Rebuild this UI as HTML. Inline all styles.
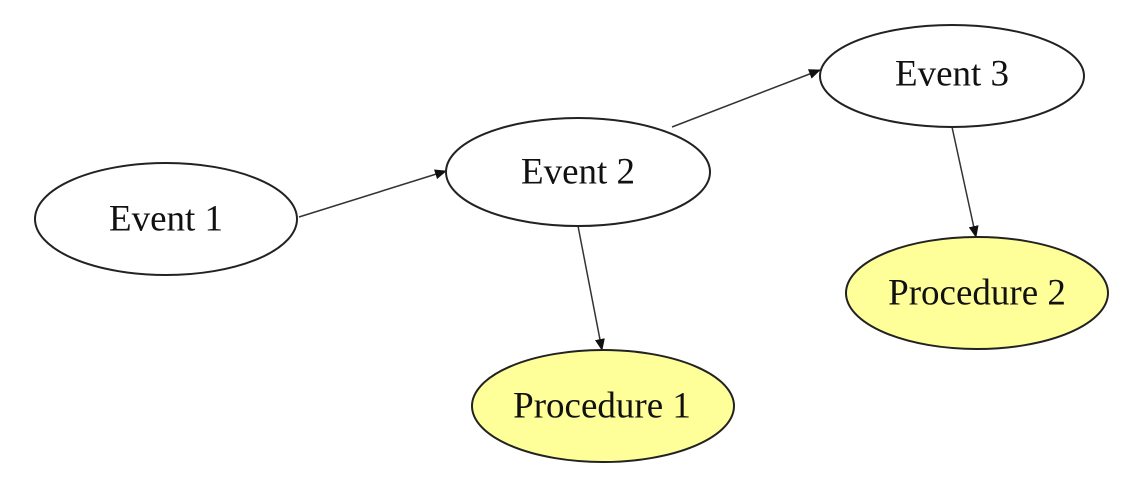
<!DOCTYPE html>
<html><head><style>
html,body{margin:0;padding:0;background:#fff;}
svg{display:block}
text{font-family:"Liberation Serif",serif;font-size:37px;fill:#111;text-anchor:middle;dominant-baseline:central}
</style></head><body>
<svg width="1148" height="493" viewBox="0 0 1148 493">
<defs><marker id="a" markerWidth="12" markerHeight="10" refX="11" refY="5" orient="auto" markerUnits="userSpaceOnUse"><path d="M0,0 L12,5 L0,10 z" fill="#111"/></marker></defs>
<g stroke="#333" stroke-width="1.5" fill="none">
<line x1="299" y1="217" x2="446" y2="171" marker-end="url(#a)"/>
<line x1="672" y1="127" x2="820" y2="70" marker-end="url(#a)"/>
<line x1="578" y1="226" x2="602" y2="350" marker-end="url(#a)"/>
<line x1="952" y1="127" x2="976" y2="237" marker-end="url(#a)"/>
</g>
<g stroke="#222" stroke-width="2">
<ellipse cx="166" cy="219" rx="131" ry="56" fill="#fff"/>
<ellipse cx="578" cy="172" rx="132" ry="54" fill="#fff"/>
<ellipse cx="952" cy="76" rx="132" ry="51" fill="#fff"/>
<ellipse cx="603" cy="406" rx="131" ry="56" fill="#ffff99"/>
<ellipse cx="977" cy="293" rx="131" ry="56" fill="#ffff99"/>
</g>
<text x="166" y="219">Event 1</text>
<text x="578" y="172">Event 2</text>
<text x="952" y="74">Event 3</text>
<text x="602" y="406">Procedure 1</text>
<text x="977" y="293">Procedure 2</text>
</svg>
</body></html>
